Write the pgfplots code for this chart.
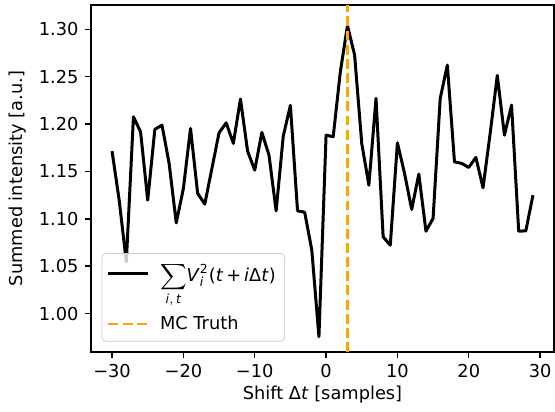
\documentclass[border=0pt]{standalone}
\usepackage{fontspec}
\setmainfont{DejaVu Sans}
\usepackage{amsmath}
\usepackage{pgfplots}
\pgfplotsset{compat=1.18}
\definecolor{mplorange}{HTML}{FFA500}
\pgfplotstableread{
x y
-30 1.1714
-29 1.1197
-28 1.0545
-27 1.2077
-26 1.1918
-25 1.1197
-24 1.1944
-23 1.1989
-22 1.1585
-21 1.0957
-20 1.1320
-19 1.1954
-18 1.1268
-17 1.1155
-16 1.1532
-15 1.1908
-14 1.2013
-13 1.1796
-12 1.2264
-11 1.1714
-10 1.1514
-9 1.1912
-8 1.1672
-7 1.1084
-6 1.1873
-5 1.2197
-4 1.1084
-3 1.1070
-2 1.0669
-1 0.9755
0 1.1883
1 1.1866
2 1.2552
3 1.3040
4 1.2729
5 1.1796
6 1.1355
7 1.2271
8 1.0809
9 1.0722
10 1.1802
11 1.1479
12 1.1099
13 1.1472
14 1.0869
15 1.1004
16 1.2271
17 1.2623
18 1.1601
19 1.1585
20 1.1542
21 1.1648
22 1.1327
23 1.1901
24 1.2514
25 1.1883
26 1.2200
27 1.0869
28 1.0873
29 1.1250
}\datatable
\begin{document}
\fontsize{8.9pt}{10.7pt}\selectfont
\begin{tikzpicture}
\begin{axis}[
  scale only axis,
  width=231.5pt, height=173.5pt,
  xmin=-32.95, xmax=31.95,
  ymin=0.9594, ymax=1.3257,
  axis line style={line width=0.7pt},
  tick style={line width=0.7pt, black},
  tick align=outside,
  major tick length=3.1pt,
  xtick={-30,-20,-10,0,10,20,30},
  xticklabels={−30,−20,−10,0,10,20,30},
  ytick={1.00,1.05,1.10,1.15,1.20,1.25,1.30},
  yticklabels={1.00,1.05,1.10,1.15,1.20,1.25,1.30},
  xtick pos=bottom, ytick pos=left,
  tick label style={font=\fontsize{8.9pt}{10.7pt}\selectfont},
  label style={font=\fontsize{8.9pt}{10.7pt}\selectfont},
  xlabel={Shift Δ\textit{t} [samples]},
  ylabel={Summed intensity [a.u.]},
  xlabel style={yshift=2pt},
  legend style={at={(0,0)}, anchor=south west, xshift=5.3pt, yshift=5.2pt,
    draw=black!20, rounded corners=2pt, fill=white, fill opacity=0.8, text opacity=1,
    font=\fontsize{8.9pt}{10.7pt}\selectfont, inner sep=2.5pt, row sep=12pt, column sep=3pt},
  legend cell align=left,
  legend image code/.code={\draw[#1] (0cm,0cm) -- (20pt,0cm);},
]
\addplot[black, line width=1.5pt, line join=round] table[x=x,y=y] {\datatable};
\addlegendentry{$\displaystyle\sum_{\textit{i},\,\textit{t}}$\textit{V}$_{\textit{i}}^{\text{2}}$(\textit{t}\,+\,\textit{i}Δ\textit{t})}
\addplot[mplorange, line width=1.34pt, dash pattern=on 4.94pt off 2.14pt] coordinates {(3,0.9594) (3,1.3257)};
\addlegendentry{MC Truth}
\end{axis}
\pgfresetboundingbox
\useasboundingbox (-45.5pt,-29.5pt) rectangle (232pt,176pt);
\end{tikzpicture}
\end{document}
